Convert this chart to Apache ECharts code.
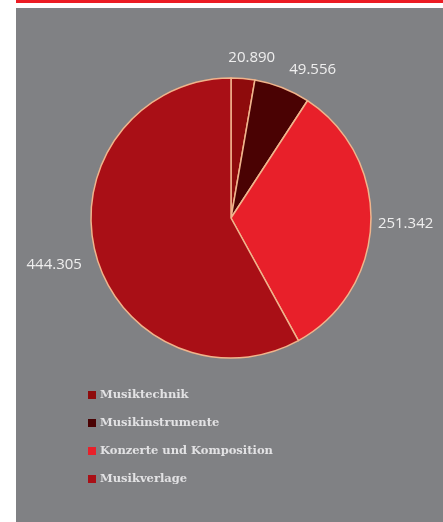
<!DOCTYPE html>
<html>
<head>
<meta charset="utf-8">
<style>
  html, body { margin: 0; padding: 0; background: #ffffff; }
  #chart { width: 443px; height: 522px; }
</style>
<script src="https://cdn.jsdelivr.net/npm/echarts@6/dist/echarts.min.js"></script>
</head>
<body>
<div id="chart"></div>
<script>
// Segment names and values (in thousands)
const categories = ['Musiktechnik', 'Musikinstrumente', 'Konzerte und Komposition', 'Musikverlage'];
const values = [20.890, 49.556, 251.342, 444.305];
const labels = ['20.890', '49.556', '251.342', '444.305'];
const colors = ['#8e0b0c', '#4a0203', '#e8202a', '#a90f16'];
// small nudges for the value labels [dx, dy]
const labelNudge = [[-22, -5], [-18, -10], [-13, 0], [8, 8]];

const chart = echarts.init(document.getElementById('chart'), null, { renderer: 'canvas' });

const data = categories.map((name, i) => ({
  name: name,
  value: values[i],
  itemStyle: { color: colors[i] },
  label: { formatter: labels[i] }
}));

chart.setOption({
  animation: false,
  backgroundColor: '#ffffff',
  graphic: [
    { type: 'rect', shape: { x: 16, y: 0, width: 427, height: 3 }, style: { fill: '#ec1c24' }, z: -10 },
    { type: 'rect', shape: { x: 16, y: 8, width: 427, height: 514 }, style: { fill: '#808184' }, z: -10 }
  ],
  legend: {
    orient: 'vertical',
    left: 83,
    top: 384,
    itemWidth: 8,
    itemHeight: 8,
    itemGap: 16,
    icon: 'rect',
    data: categories,
    itemStyle: { borderWidth: 0 },
    textStyle: {
      color: '#e2e2e4',
      fontFamily: 'DejaVu Serif',
      fontWeight: 'bold',
      fontSize: 11.5,
      padding: [0, 0, 0, -1]
    }
  },
  series: [{
    type: 'pie',
    center: [231, 218],
    radius: 140,
    startAngle: 90,
    clockwise: true,
    data: data,
    itemStyle: { borderColor: '#f0b48c', borderWidth: 1.5 },
    label: {
      show: true,
      position: 'outside',
      color: '#eeeeee',
      fontFamily: 'Open Sans',
      fontSize: 15,
      overflow: 'none',
      distanceToLabelLine: 2
    },
    labelLine: { show: false, length: 16, length2: 4 },
    labelLayout: function (params) {
      const n = labelNudge[params.dataIndex];
      return { dx: n[0], dy: n[1] };
    },
    emphasis: { disabled: true }
  }]
});
</script>
</body>
</html>
